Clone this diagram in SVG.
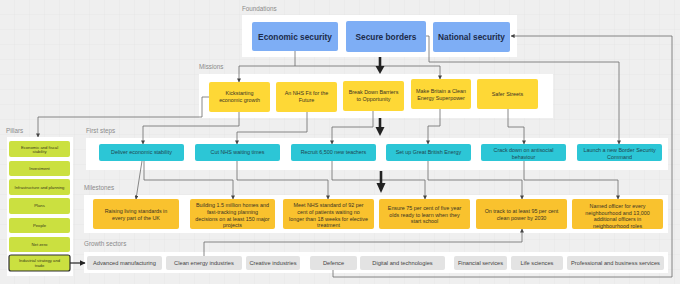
<svg xmlns="http://www.w3.org/2000/svg" width="680" height="284" viewBox="0 0 680 284">
<style>
text{font-family:"Liberation Sans",Arial,sans-serif;fill:#333}
.sec{font-size:6.3px;fill:#8a8a8a}
.panel{fill:#ffffff}
.blue{fill:#7eaef5}
.bt{font-size:8.3px;font-weight:bold;fill:#1c2b4a;text-anchor:middle}
.mis{fill:#fed836}
.mt{font-size:5.4px;fill:#3a3424;text-anchor:middle}
.cy{fill:#2cc6d6}
.ct{font-size:5.4px;fill:#1f4650;text-anchor:middle}
.ms{fill:#f9c22e}
.pl{fill:#cbe040}
.pt{font-size:4.2px;fill:#3a3a1a;text-anchor:middle}
.gr{fill:#e3e3e3}
.gt{font-size:5.7px;fill:#444;text-anchor:middle}
.con{fill:none;stroke:#6b6b6b;stroke-width:0.8;marker-end:url(#ah)}
.big{stroke:#222;stroke-width:2.6;fill:none}
.bh{fill:#222}
</style>
<defs>
<pattern id="grid" width="15" height="15" patternUnits="userSpaceOnUse">
<path d="M15 0V15M0 15H15" fill="none" stroke="#e2e2e2" stroke-width="0.6"/>
</pattern>
<marker id="ah" viewBox="0 0 10 10" refX="9" refY="5" markerWidth="4" markerHeight="4" markerUnits="userSpaceOnUse" orient="auto">
<path d="M0,0 L10,5 L0,10 z" fill="#444"/>
</marker>
<marker id="ahb" viewBox="0 0 10 10" refX="9" refY="5" markerWidth="6" markerHeight="6" markerUnits="userSpaceOnUse" orient="auto">
<path d="M0,0 L10,5 L0,10 z" fill="#222"/>
</marker>
</defs>
<rect width="680" height="284" fill="#efefef"/>
<rect width="680" height="284" fill="url(#grid)"/>

<!-- panels and section labels -->
<g id="panels">
<rect class="panel" x="242" y="15" width="275" height="42"/>
<rect class="panel" x="199" y="74" width="354" height="44"/>
<rect class="panel" x="7" y="137" width="66" height="139"/>
<rect class="panel" x="86" y="138" width="582" height="32"/>
<rect class="panel" x="84" y="195" width="584" height="38"/>
<rect class="panel" x="84" y="252" width="584" height="21"/>
<text class="sec" x="242" y="11">Foundations</text>
<text class="sec" x="199" y="69">Missions</text>
<text class="sec" x="6" y="133">Pillars</text>
<text class="sec" x="86" y="133">First steps</text>
<text class="sec" x="84" y="190">Milestones</text>
<text class="sec" x="84" y="246">Growth sectors</text>
</g>

<!-- connectors -->
<g id="connectors">
<path class="con" d="M295,51 V66 H239 V82"/>
<path class="con" d="M295,66 H440 V79"/>
<path class="con" d="M426,36 H429 V62 H619 V144"/>
<path class="con" d="M333,270 V277 H672 V36 H511"/>
<path class="con" d="M209,97 H202 V117 H38 V137"/>
<path class="con" d="M239,112 V126 H143 V144"/>
<path class="con" d="M307,112 V132 H237 V144"/>
<path class="con" d="M373,111 V127 H332 V144"/>
<path class="con" d="M440,109 V126 H428 V144"/>
<path class="con" d="M508,109 V127 H524 V144"/>
<path class="con" d="M142,161 L136,199"/>
<path class="con" d="M144,161 V180 H233 V199"/>
<path class="con" d="M237,161 V180 H328 V199"/>
<path class="con" d="M332,161 V180 H425 V199"/>
<path class="con" d="M428,161 V180 H522 V199"/>
<path class="con" d="M524,161 V180 H618 V199"/>
<path class="con" d="M204,256 V242 H522 V229"/>
<path d="M70,263 H85" fill="none" stroke="#222" stroke-width="1.2" marker-end="url(#ahb)"/>
<path class="big" d="M380,57 V67"/>
<polygon class="bh" points="375.5,66 384.5,66 380,74"/>
<path class="big" d="M380,118 V128"/>
<polygon class="bh" points="375.5,127 384.5,127 380,136"/>
<path class="big" d="M381,171 V184"/>
<polygon class="bh" points="376.5,183 385.5,183 381,193"/>
</g>

<!-- foundations -->
<g id="economic-security"><rect class="blue" x="252" y="22" width="86" height="29" rx="2"/><text class="bt" x="295" y="39.5">Economic security</text></g>
<g id="secure-borders"><rect class="blue" x="346" y="21" width="80" height="31" rx="2"/><text class="bt" x="386" y="39.5">Secure borders</text></g>
<g id="national-security"><rect class="blue" x="433" y="22" width="77" height="30" rx="2"/><text class="bt" x="471.5" y="39.5">National security</text></g>

<!-- missions -->
<g id="m-kickstarting"><rect class="mis" x="209" y="82" width="61" height="30" rx="2"/><text class="mt" x="239.5" y="95">Kickstarting</text><text class="mt" x="239.5" y="102">economic growth</text></g>
<g id="m-nhs"><rect class="mis" x="276" y="82" width="61" height="30" rx="2"/><text class="mt" x="306.5" y="95">An NHS Fit for the</text><text class="mt" x="306.5" y="102">Future</text></g>
<g id="m-barriers"><rect class="mis" x="343" y="81" width="61" height="30" rx="2"/><text class="mt" x="373.5" y="94">Break Down Barriers</text><text class="mt" x="373.5" y="101">to Opportunity</text></g>
<g id="m-energy"><rect class="mis" x="411" y="79" width="60" height="30" rx="2"/><text class="mt" x="441" y="92.5">Make Britain a Clean</text><text class="mt" x="441" y="99.5">Energy Superpower</text></g>
<g id="m-safer"><rect class="mis" x="477" y="79" width="61" height="30" rx="2"/><text class="mt" x="507.5" y="96">Safer Streets</text></g>

<!-- pillars -->
<g id="p-fiscal"><rect class="pl" x="9" y="141" width="61" height="16" rx="2"/><text class="pt" x="39.5" y="148.8">Economic and fiscal</text><text class="pt" x="39.5" y="153.4">stability</text></g>
<g id="p-investment"><rect class="pl" x="9" y="161" width="61" height="15" rx="2"/><text class="pt" x="39.5" y="169.8">Investment</text></g>
<g id="p-infrastructure"><rect class="pl" x="9" y="179" width="61" height="16" rx="2"/><text class="pt" x="39.5" y="188.6">Infrastructure and planning</text></g>
<g id="p-plans"><rect class="pl" x="9" y="198" width="61" height="16" rx="2"/><text class="pt" x="39.5" y="207.4">Plans</text></g>
<g id="p-people"><rect class="pl" x="9" y="218" width="61" height="15" rx="2"/><text class="pt" x="39.5" y="226.8">People</text></g>
<g id="p-netzero"><rect class="pl" x="9" y="237" width="61" height="15" rx="2"/><text class="pt" x="39.5" y="246.4">Net zero</text></g>
<g id="p-industrial"><rect class="pl" x="9" y="255" width="61" height="16" rx="2" stroke="#2e2e2e" stroke-width="1.2"/><text class="pt" x="39.5" y="262.3">Industrial strategy and</text><text class="pt" x="39.5" y="267">trade</text></g>

<!-- first steps -->
<g id="f-stability"><rect class="cy" x="99" y="144" width="85" height="17" rx="2"/><text class="ct" x="141.5" y="154.3">Deliver economic stability</text></g>
<g id="f-nhs"><rect class="cy" x="195" y="144" width="85" height="17" rx="2"/><text class="ct" x="237.5" y="154.3">Cut NHS waiting times</text></g>
<g id="f-teachers"><rect class="cy" x="291" y="144" width="85" height="17" rx="2"/><text class="ct" x="333.5" y="154.3">Recruit 6,500 new teachers</text></g>
<g id="f-gbe"><rect class="cy" x="386" y="144" width="85" height="17" rx="2"/><text class="ct" x="428.5" y="154.3">Set up Great British Energy</text></g>
<g id="f-antisocial"><rect class="cy" x="481" y="144" width="85" height="17" rx="2"/><text class="ct" x="523.5" y="152.3">Crack down on antisocial</text><text class="ct" x="523.5" y="159">behaviour</text></g>
<g id="f-border"><rect class="cy" x="577" y="144" width="85" height="17" rx="2"/><text class="ct" x="619.5" y="152.3">Launch a new Border Security</text><text class="ct" x="619.5" y="159">Command</text></g>

<!-- milestones -->
<g id="ms-living"><rect class="ms" x="93" y="199" width="86" height="30" rx="2"/><text class="mt" x="136" y="213">Raising living standards in</text><text class="mt" x="136" y="220">every part of the UK</text></g>
<g id="ms-homes"><rect class="ms" x="190" y="199" width="85" height="30" rx="2"/><text class="mt" x="232.5" y="207.4">Building 1.5 million homes and</text><text class="mt" x="232.5" y="214">fast-tracking planning</text><text class="mt" x="232.5" y="220.6">decisions on at least 150 major</text><text class="mt" x="232.5" y="227.2">projects</text></g>
<g id="ms-nhs"><rect class="ms" x="283" y="199" width="91" height="30" rx="2"/><text class="mt" x="328.5" y="207.4">Meet NHS standard of 92 per</text><text class="mt" x="328.5" y="214">cent of patients waiting no</text><text class="mt" x="328.5" y="220.6">longer than 18 weeks for elective</text><text class="mt" x="328.5" y="227.2">treatment</text></g>
<g id="ms-school"><rect class="ms" x="379" y="199" width="91" height="30" rx="2"/><text class="mt" x="424.5" y="210.4">Ensure 75 per cent of five year</text><text class="mt" x="424.5" y="216.8">olds ready to learn when they</text><text class="mt" x="424.5" y="223.2">start school</text></g>
<g id="ms-power"><rect class="ms" x="476" y="199" width="91" height="30" rx="2"/><text class="mt" x="521.5" y="212.7">On track to at least 95 per cent</text><text class="mt" x="521.5" y="219.7">clean power by 2030</text></g>
<g id="ms-officers"><rect class="ms" x="572" y="199" width="91" height="30" rx="2"/><text class="mt" x="617.5" y="208">Named officer for every</text><text class="mt" x="617.5" y="214.5">neighbourhood and 13,000</text><text class="mt" x="617.5" y="221">additional officers in</text><text class="mt" x="617.5" y="227.5">neighbourhood roles</text></g>

<!-- growth sectors -->
<g id="g-advanced"><rect class="gr" x="87" y="256" width="75" height="14" rx="2"/><text class="gt" x="124.5" y="265">Advanced manufacturing</text></g>
<g id="g-clean"><rect class="gr" x="166" y="256" width="76" height="14" rx="2"/><text class="gt" x="204" y="265">Clean energy industries</text></g>
<g id="g-creative"><rect class="gr" x="246" y="256" width="54" height="14" rx="2"/><text class="gt" x="273" y="265">Creative industries</text></g>
<g id="g-defence"><rect class="gr" x="310" y="256" width="47" height="14" rx="2"/><text class="gt" x="333.5" y="265">Defence</text></g>
<g id="g-digital"><rect class="gr" x="360" y="256" width="85" height="14" rx="2"/><text class="gt" x="402.5" y="265">Digital and technologies</text></g>
<g id="g-financial"><rect class="gr" x="454" y="256" width="53" height="14" rx="2"/><text class="gt" x="480.5" y="265">Financial services</text></g>
<g id="g-life"><rect class="gr" x="511" y="256" width="52" height="14" rx="2"/><text class="gt" x="537" y="265">Life sciences</text></g>
<g id="g-professional"><rect class="gr" x="567" y="256" width="97" height="14" rx="2"/><text class="gt" x="615.5" y="265">Professional and business services</text></g>
</svg>
